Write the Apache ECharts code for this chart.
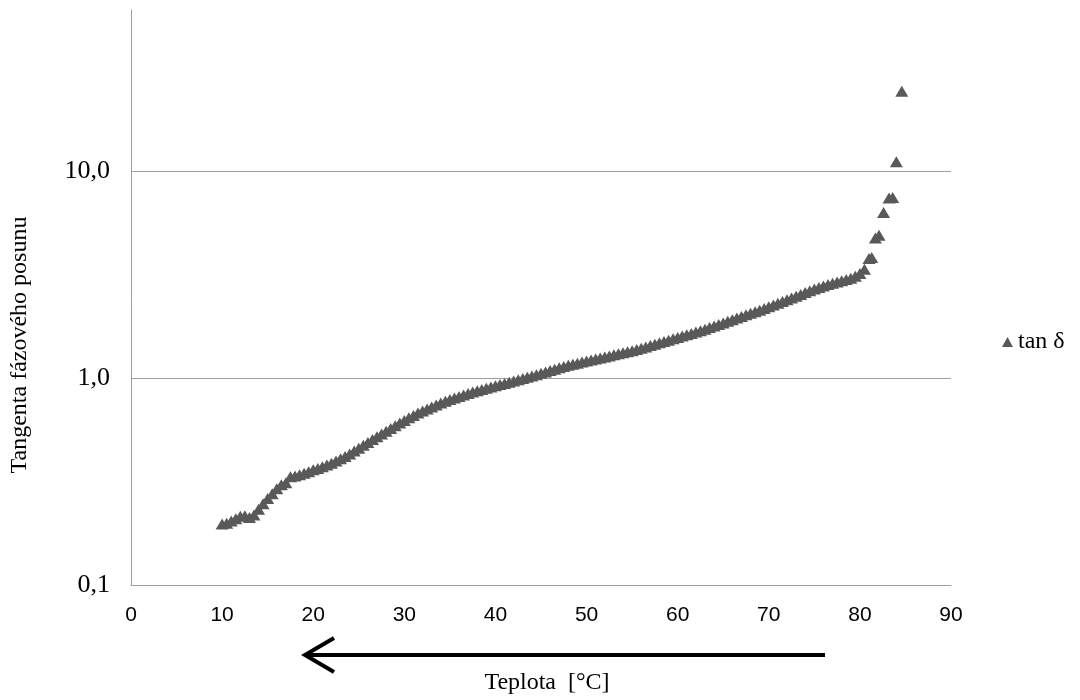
<!DOCTYPE html>
<html>
<head>
<meta charset="utf-8">
<script src="https://cdn.jsdelivr.net/npm/echarts@6/dist/echarts.min.js"></script>
<style>
html,body{margin:0;padding:0;background:#fff;}
#chart{width:1080px;height:700px;}
</style>
</head>
<body>
<div id="chart"></div>
<script>
// Temperature [°C]
var temps = [
  10.0, 10.5, 11.0, 11.5, 12.0, 12.5, 13.0, 13.5, 14.0, 14.5, 15.0, 15.5, 16.0, 16.5, 17.0, 17.5,
  18.0, 18.5, 19.0, 19.5, 20.0, 20.5, 21.0, 21.5, 22.0, 22.5, 23.0, 23.5, 24.0, 24.5, 25.0, 25.5,
  26.0, 26.5, 27.0, 27.5, 28.0, 28.5, 29.0, 29.5, 30.0, 30.5, 31.0, 31.5, 32.0, 32.5, 33.0, 33.5,
  34.0, 34.5, 35.0, 35.5, 36.0, 36.5, 37.0, 37.5, 38.0, 38.5, 39.0, 39.5, 40.0, 40.5, 41.0, 41.5,
  42.0, 42.5, 43.0, 43.5, 44.0, 44.5, 45.0, 45.5, 46.0, 46.5, 47.0, 47.5, 48.0, 48.5, 49.0, 49.5,
  50.0, 50.5, 51.0, 51.5, 52.0, 52.5, 53.0, 53.5, 54.0, 54.5, 55.0, 55.5, 56.0, 56.5, 57.0, 57.5,
  58.0, 58.5, 59.0, 59.5, 60.0, 60.5, 61.0, 61.5, 62.0, 62.5, 63.0, 63.5, 64.0, 64.5, 65.0, 65.5,
  66.0, 66.5, 67.0, 67.5, 68.0, 68.5, 69.0, 69.5, 70.0, 70.5, 71.0, 71.5, 72.0, 72.5, 73.0, 73.5,
  74.0, 74.5, 75.0, 75.5, 76.0, 76.5, 77.0, 77.5, 78.0, 78.5, 79.0, 79.5, 80.0, 80.5, 81.0, 81.3,
  81.7, 82.1, 82.6, 83.2, 83.6, 84.0, 84.6
];
// tan delta
var tanDelta = [
  0.197, 0.199, 0.204, 0.209, 0.215, 0.216, 0.212, 0.218, 0.232, 0.247, 0.262, 0.276, 0.292, 0.305, 0.312, 0.333,
  0.336, 0.341, 0.347, 0.353, 0.360, 0.366, 0.373, 0.380, 0.388, 0.397, 0.407, 0.418, 0.430, 0.444, 0.458, 0.473,
  0.488, 0.504, 0.520, 0.536, 0.553, 0.570, 0.588, 0.606, 0.624, 0.642, 0.660, 0.677, 0.693, 0.709, 0.725, 0.741,
  0.757, 0.772, 0.787, 0.801, 0.815, 0.829, 0.842, 0.855, 0.868, 0.881, 0.893, 0.905, 0.918, 0.930, 0.942, 0.955,
  0.968, 0.981, 0.995, 1.009, 1.023, 1.038, 1.054, 1.070, 1.086, 1.103, 1.120, 1.136, 1.153, 1.166, 1.180, 1.194,
  1.208, 1.222, 1.236, 1.250, 1.265, 1.279, 1.294, 1.309, 1.324, 1.339, 1.355, 1.374, 1.393, 1.414, 1.435, 1.457,
  1.479, 1.501, 1.524, 1.547, 1.570, 1.594, 1.618, 1.642, 1.667, 1.694, 1.722, 1.752, 1.782, 1.813, 1.845, 1.879,
  1.914, 1.948, 1.982, 2.019, 2.056, 2.092, 2.128, 2.168, 2.208, 2.252, 2.296, 2.342, 2.388, 2.435, 2.483, 2.535,
  2.588, 2.640, 2.692, 2.739, 2.786, 2.828, 2.871, 2.911, 2.951, 2.992, 3.034, 3.100, 3.200, 3.350, 3.780, 3.820,
  4.750, 4.900, 6.300, 7.400, 7.450, 11.100, 24.300
];
var xTicks = [0, 10, 20, 30, 40, 50, 60, 70, 80, 90];
var yTicks = [0.1, 1, 10];
var seriesName = 'tan δ';
var xTitle = 'Teplota  [°C]';
var yTitle = 'Tangenta fázového posunu';

var points = temps.map(function (t, i) { return [t, tanDelta[i]]; });

var chart = echarts.init(document.getElementById('chart'), null, {renderer: 'canvas'});
var grey = '#9e9e9e';
var option = {
  animation: false,
  backgroundColor: '#ffffff',
  grid: {left: 128, right: 129, top: 10, bottom: 115, containLabel: false},
  legend: {
    data: [seriesName],
    left: 1002, top: 330, padding: 0,
    icon: 'triangle', itemWidth: 11, itemHeight: 10,
    itemStyle: {color: '#595959', opacity: 1},
    textStyle: {fontFamily: 'Liberation Serif', fontSize: 24, color: '#000'}
  },
  xAxis: {
    type: 'value', min: xTicks[0], max: xTicks[xTicks.length - 1], interval: 10,
    axisLine: {show: true, lineStyle: {color: grey, width: 1}},
    axisTick: {show: false},
    splitLine: {show: false},
    axisLabel: {fontFamily: 'Liberation Sans', fontSize: 21, color: '#000', margin: 20},
    name: xTitle, nameLocation: 'middle', nameGap: 86,
    nameTextStyle: {fontFamily: 'Liberation Serif', fontSize: 24, color: '#000', padding: [0, 0, 0, 12]}
  },
  yAxis: {
    type: 'log', logBase: 10, min: yTicks[0], max: 60,
    axisLine: {show: true, lineStyle: {color: grey, width: 1}},
    axisTick: {show: false},
    splitLine: {show: true, showMaxLine: false, lineStyle: {color: grey, width: 1}},
    axisLabel: {
      fontFamily: 'Liberation Serif', fontSize: 26, color: '#000', margin: 21,
      showMaxLabel: false,
      formatter: function (v) { return (+v).toFixed(1).replace('.', ','); }
    },
    name: yTitle, nameLocation: 'middle', nameGap: 99, nameRotate: 90,
    nameTextStyle: {fontFamily: 'Liberation Serif', fontSize: 24, color: '#000', padding: [0, 95, 0, 0]}
  },
  series: [{
    name: seriesName,
    type: 'scatter',
    symbol: 'triangle',
    symbolSize: [13, 11],
    itemStyle: {color: '#595959', opacity: 1},
    data: points
  }],
  graphic: [
    {type: 'line', shape: {x1: 825, y1: 655, x2: 306, y2: 655}, style: {stroke: '#000', lineWidth: 4}},
    {type: 'polyline', shape: {points: [[334, 638], [305, 655], [334, 672]]}, style: {stroke: '#000', lineWidth: 4, fill: null}}
  ]
};
chart.setOption(option);
</script>
</body>
</html>
